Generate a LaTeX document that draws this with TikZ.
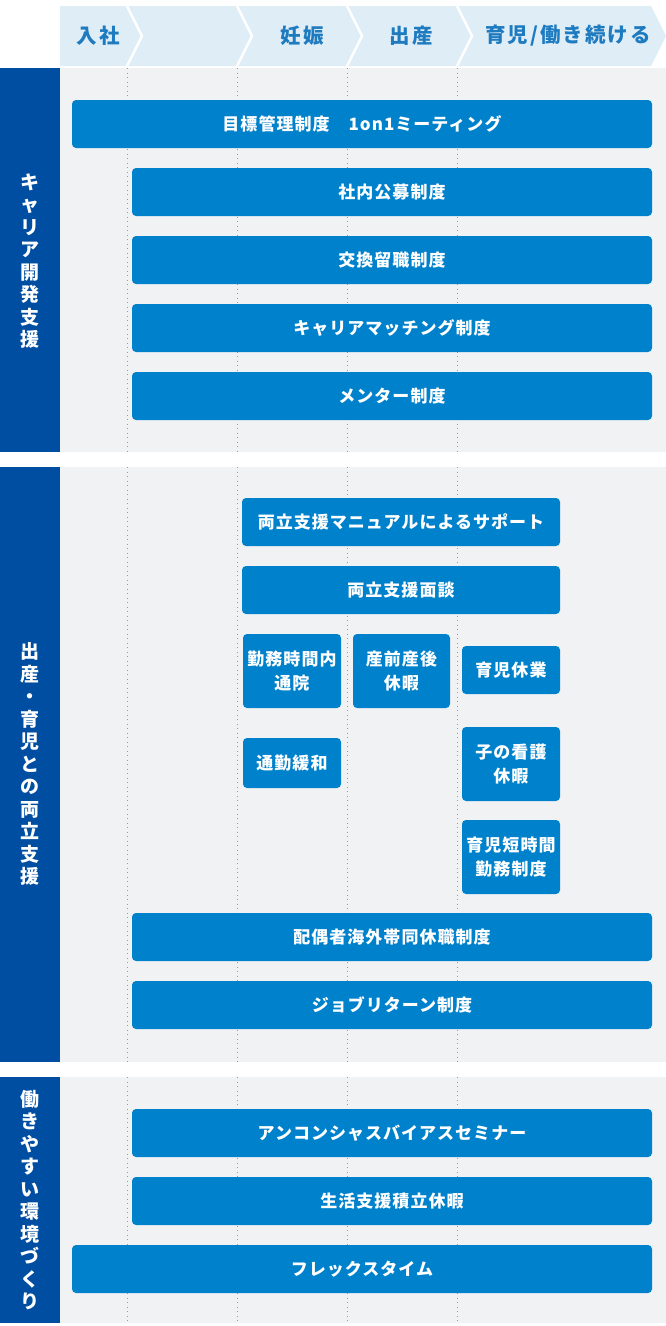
\documentclass[tikz,border=0pt]{standalone}
\usepackage{fontspec}
\setmainfont{Noto Sans CJK JP}
\newfontfamily\jpspaced{Noto Sans CJK JP}[LetterSpace=6]
\newfontfamily\jpstage{Noto Sans CJK JP}[LetterSpace=10]

\definecolor{headfill}{HTML}{DFEDF7}
\definecolor{headtext}{HTML}{1E7BC0}
\definecolor{sidebar}{HTML}{004EA2}
\definecolor{panel}{HTML}{F1F2F4}
\definecolor{barblue}{HTML}{0081CC}
\definecolor{guideline}{HTML}{9A9A9A}

\begin{document}
\begin{tikzpicture}[x=1pt,y=-1pt,
    chevron/.style={fill=headfill},
    stagetext/.style={text=headtext,font=\jpstage\bfseries\fontsize{20.5}{24}\selectfont},
    sidetext/.style={text=white,align=center,font=\bfseries\fontsize{19}{22.5}\selectfont},
    guide/.style={guideline,line width=0.8pt,dash pattern=on 1pt off 3.5pt},
    barbox/.style={fill=barblue,rounded corners=4pt,text=white,align=center,
      inner sep=0pt,outer sep=0pt,minimum height=48pt,
      font=\jpspaced\bfseries\fontsize{17}{24}\selectfont},
    wide/.style={barbox,minimum width=580pt},
    long/.style={barbox,minimum width=520pt},
    mid/.style={barbox,minimum width=318pt},
    small/.style={barbox,minimum width=98pt}]
  \useasboundingbox (0,0) rectangle (666,1326);

  % header
  \fill[chevron] (60,6) -- (125.5,6) -- (140.5,36) -- (125.5,66) -- (60,66) -- cycle;
  \fill[chevron] (128.5,6) -- (235.5,6) -- (250.5,36) -- (235.5,66) -- (128.5,66) -- (143.5,36) -- cycle;
  \fill[chevron] (238.5,6) -- (345.5,6) -- (360.5,36) -- (345.5,66) -- (238.5,66) -- (253.5,36) -- cycle;
  \fill[chevron] (348.5,6) -- (455.5,6) -- (470.5,36) -- (455.5,66) -- (348.5,66) -- (363.5,36) -- cycle;
  \fill[chevron] (458.5,6) -- (651,6) -- (666,36) -- (651,66) -- (458.5,66) -- (473.5,36) -- cycle;
  \node[stagetext] (nyusha) at (98,36) {入社};
  \node[stagetext] (ninshin) at (302,36) {妊娠};
  \node[stagetext] (shussan) at (411,36) {出産};
  \node[stagetext] (ikuji) at (568,36) {育児/働き続ける};

  % panels
  \fill[sidebar] (0,68) rectangle (60,452);
  \fill[panel] (60,68) rectangle (666,452);
  \fill[sidebar] (0,467) rectangle (60,1062);
  \fill[panel] (60,467) rectangle (666,1062);
  \fill[sidebar] (0,1077) rectangle (60,1323);
  \fill[panel] (60,1077) rectangle (666,1323);

  \draw[guide] (127,68) -- (127,452);
  \draw[guide] (237,68) -- (237,452);
  \draw[guide] (347,68) -- (347,452);
  \draw[guide] (457,68) -- (457,452);
  \draw[guide] (127,467) -- (127,1062);
  \draw[guide] (237,467) -- (237,1062);
  \draw[guide] (347,467) -- (347,1062);
  \draw[guide] (457,467) -- (457,1062);
  \draw[guide] (127,1077) -- (127,1323);
  \draw[guide] (237,1077) -- (237,1323);
  \draw[guide] (347,1077) -- (347,1323);
  \draw[guide] (457,1077) -- (457,1323);

  \node[sidetext] (career) at (30,261) {キ\\ャ\\リ\\ア\\開\\発\\支\\援};
  \node[sidetext] (ryoritsu) at (30,764) {出\\産\\・\\育\\児\\と\\の\\両\\立\\支\\援};
  \node[sidetext] (hatarakiyasui) at (30,1200) {働\\き\\や\\す\\い\\環\\境\\づ\\く\\り};

  % career
  \node[wide] (mokuhyo) at (362,124) {目標管理制度　1on1ミーティング};
  \node[long] (koubo) at (392,192) {社内公募制度};
  \node[long] (koukan) at (392,260) {交換留職制度};
  \node[long] (matching) at (392,328) {キャリアマッチング制度};
  \node[long] (mentor) at (392,396) {メンター制度};

  % ryoritsu
  \node[mid] (manual) at (401,522) {両立支援マニュアルによるサポート};
  \node[mid] (mendan) at (401,590) {両立支援面談};
  \node[small,minimum height=74pt] (tsuin) at (292,671) {勤務時間内\\通院};
  \node[small,minimum width=97pt,minimum height=74pt] (sanzen) at (401.5,671) {産前産後\\休暇};
  \node[small] (ikukyu) at (511,670) {育児休業};
  \node[small,minimum height=50pt] (tsukin) at (292,763) {通勤緩和};
  \node[small,minimum height=74pt] (kango) at (511,764) {子の看護\\休暇};
  \node[small,minimum height=74pt] (tanjikan) at (511,857) {育児短時間\\勤務制度};
  \node[long] (haigusha) at (392,937) {配偶者海外帯同休職制度};
  \node[long] (jobreturn) at (392,1005) {ジョブリターン制度};

  % hatarakiyasui
  \node[long] (unconscious) at (392,1133) {アンコンシャスバイアスセミナー};
  \node[long] (seikatsu) at (392,1201) {生活支援積立休暇};
  \node[wide] (flex) at (362,1269) {フレックスタイム};
\end{tikzpicture}
\end{document}
